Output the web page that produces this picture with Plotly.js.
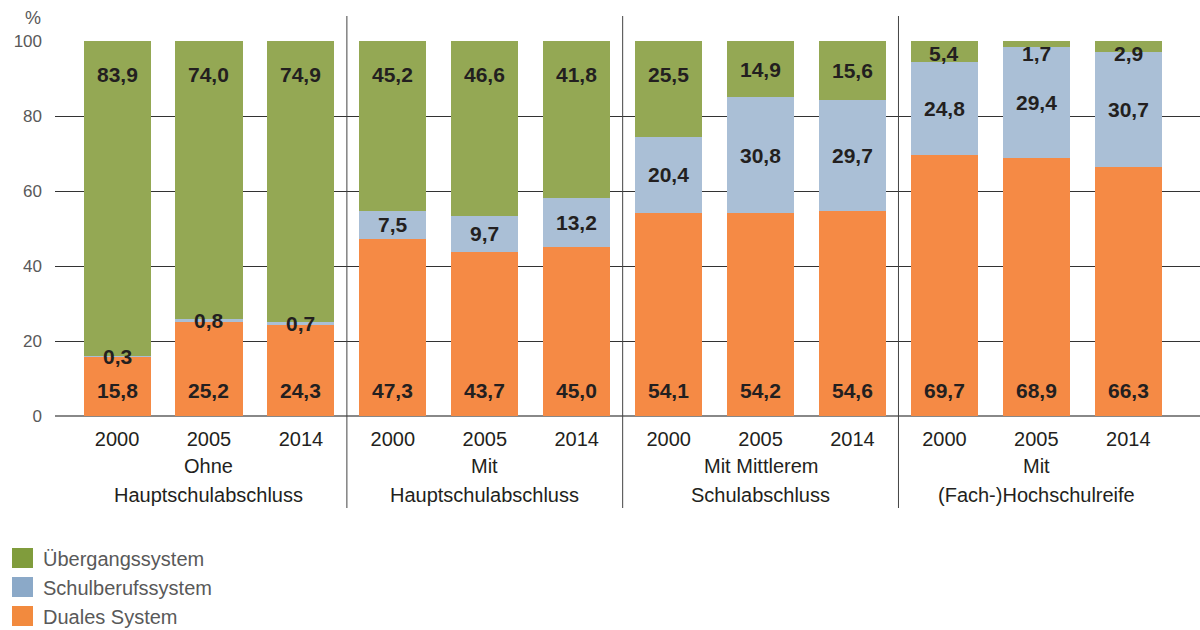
<!DOCTYPE html>
<html>
<head>
<meta charset="utf-8">
<script src="https://cdn.plot.ly/plotly-3.0.1.min.js"></script>
<style>html,body{margin:0;padding:0;background:#fff;}#chart{width:1200px;height:630px;}</style>
</head>
<body>
<div id="chart"></div>
<script>
const categories = ['2000','2005','2014','2000','2005','2014','2000','2005','2014','2000','2005','2014'];
const groupLine1 = ['Ohne','Mit','Mit Mittlerem','Mit'];
const groupLine2 = ['Hauptschulabschluss','Hauptschulabschluss','Schulabschluss','(Fach-)Hochschulreife'];
const dualesSystem = [15.8,25.2,24.3,47.3,43.7,45.0,54.1,54.2,54.6,69.7,68.9,66.3];
const schulberufssystem = [0.3,0.8,0.7,7.5,9.7,13.2,20.4,30.8,29.7,24.8,29.4,30.7];
const uebergangssystem = [83.9,74.0,74.9,45.2,46.6,41.8,25.5,14.9,15.6,5.4,1.7,2.9];
const seriesNames = ['Übergangssystem','Schulberufssystem','Duales System'];
const yTicks = [0,20,40,60,80,100];

const colors = {orange:'#f58a45', blue:'#aabfd6', green:'#94a854'};
const legendColors = ['#809c3c','#8ba9c8','#f28a3e'];
const xs = categories.map((c,i)=>i);
const W = 1200, H = 630, L = 55, R = 0, T = 41, B = 214;
const pw = W-L-R, ph = H-T-B;
const px2x = p => (p-L)/pw;
const py2y = p => (H-B-p)/ph;
const fmt = v => v.toFixed(1).replace('.',',');
const barW = 0.73;
const FAM = 'Liberation Sans, Arial, sans-serif';

const traces = [
  {type:'bar', name:seriesNames[2], x:xs, y:dualesSystem, marker:{color:colors.orange}, width:barW, hoverinfo:'none'},
  {type:'bar', name:seriesNames[1], x:xs, y:schulberufssystem, marker:{color:colors.blue}, width:barW, hoverinfo:'none'},
  {type:'bar', name:seriesNames[0], x:xs, y:uebergangssystem, marker:{color:colors.green}, width:barW, hoverinfo:'none'}
];

const labelFont = {family:FAM, size:21, color:'#231f20'};
const annotations = [];
const addAnn = (o) => annotations.push(Object.assign({showarrow:false, xanchor:'center', yanchor:'middle'}, o));
xs.forEach(i=>{
  const d = dualesSystem[i], s = schulberufssystem[i], u = uebergangssystem[i];
  addAnn({x:i, y:6.9, xref:'x', yref:'y', text:'<b>'+fmt(d)+'</b>', font:labelFont});
  addAnn({x:i, y:d + s/2, xref:'x', yref:'y', text:'<b>'+fmt(s)+'</b>', font:labelFont});
  const gc = d + s + u/2;
  addAnn({x:i, y:Math.max(91, Math.min(96.8, gc)), xref:'x', yref:'y', text:'<b>'+fmt(u)+'</b>', font:labelFont});
});
const axFont = {family:FAM, size:20, color:'#231f20'};
groupLine1.forEach((t,g)=>{
  addAnn({x:g*3+1, y:py2y(466), xref:'x', yref:'paper', text:t, font:axFont});
  addAnn({x:g*3+1, y:py2y(495), xref:'x', yref:'paper', text:groupLine2[g], font:axFont});
});
addAnn({x:px2x(33), y:py2y(18), xref:'paper', yref:'paper', text:'%', font:{family:FAM, size:18, color:'#595959'}});

const shapes = [];
[2.5,5.5,8.5].forEach(xv=>{
  shapes.push({type:'line', xref:'x', yref:'paper', x0:xv, x1:xv, y0:py2y(508), y1:py2y(16), line:{color:'#444', width:1}});
});
const legFont = {family:FAM, size:20, color:'#595959'};
seriesNames.forEach((n,k)=>{
  const cy = 558 + k*29;
  shapes.push({type:'rect', xref:'paper', yref:'paper', x0:px2x(12), x1:px2x(33), y0:py2y(cy-10), y1:py2y(cy+10), fillcolor:legendColors[k], line:{width:0}});
  addAnn({x:px2x(41), y:py2y(cy+1), xref:'paper', yref:'paper', xanchor:'left', text:n, font:legFont});
});

const layout = {
  width:W, height:H,
  margin:{l:L, r:R, t:T, b:B},
  paper_bgcolor:'#fff', plot_bgcolor:'#fff',
  barmode:'stack', showlegend:false,
  xaxis:{range:[-0.675, 11.78], tickvals:xs, ticktext:categories, tickfont:axFont, showgrid:false, zeroline:false, showline:false, ticks:'', ticklabelstandoff:9, fixedrange:true},
  yaxis:{range:[0,100], tickvals:yTicks, tickfont:{family:FAM, size:17, color:'#595959'}, showgrid:true, gridcolor:'#333', gridwidth:1, zeroline:true, zerolinecolor:'#888', zerolinewidth:2, ticks:'', ticklabelstandoff:12, fixedrange:true},
  annotations:annotations, shapes:shapes
};
Plotly.newPlot('chart', traces, layout, {displayModeBar:false, staticPlot:true});
</script>
</body>
</html>
